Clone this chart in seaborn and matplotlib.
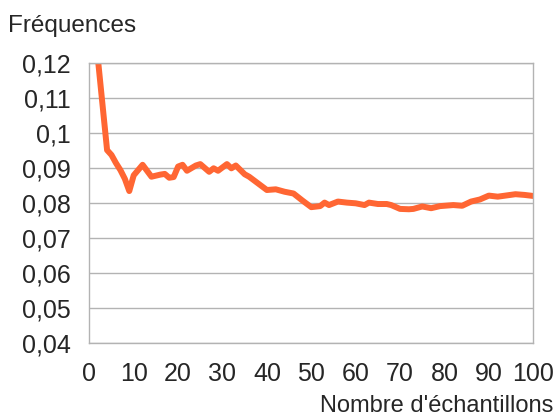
import matplotlib
matplotlib.use('Agg')
import matplotlib.pyplot as plt
from matplotlib.ticker import FuncFormatter
import seaborn as sns
import pandas as pd

# Values
echantillons = [1, 4, 5, 6, 7, 8, 9, 10, 12, 14, 16, 17, 18, 19, 20, 21, 22, 24, 25,
                27, 28, 29, 31, 32, 33, 35, 36, 38, 40, 42, 44, 46, 48, 50, 52, 53,
                54, 56, 58, 60, 62, 63, 65, 67, 68, 70, 72, 73, 75, 77, 79, 82, 84,
                86, 88, 90, 92, 96, 98, 100]
frequences = [0.133, 0.0952, 0.0938, 0.0915, 0.0895, 0.087, 0.0835, 0.088, 0.091,
              0.0876, 0.0882, 0.0884, 0.0873, 0.0875, 0.0905, 0.091, 0.0893, 0.0908,
              0.0912, 0.089, 0.0900, 0.0893, 0.0912, 0.0900, 0.0908, 0.0883, 0.0876,
              0.0857, 0.0838, 0.0840, 0.0833, 0.0828, 0.0808, 0.0789, 0.0792, 0.0802,
              0.0795, 0.0805, 0.0802, 0.0800, 0.0795, 0.0802, 0.0798, 0.0798, 0.0795,
              0.0784, 0.0783, 0.0784, 0.0791, 0.0786, 0.0792, 0.0795, 0.0793, 0.0805,
              0.0811, 0.0822, 0.0819, 0.0826, 0.0824, 0.0821]
x_ticks = list(range(0, 101, 10))
y_ticks = [0.04, 0.05, 0.06, 0.07, 0.08, 0.09, 0.10, 0.11, 0.12]

df = pd.DataFrame({'Nombre': echantillons, 'Frequence': frequences})

sns.set_style('white')
plt.rcParams['font.family'] = ['Liberation Sans', 'DejaVu Sans']

fig = plt.figure(figsize=(5.6, 4.17), dpi=100)
ax = fig.add_axes([0.1595, 0.1767, 0.7927, 0.6715])

sns.lineplot(data=df, x='Nombre', y='Frequence', color='#ff6633', linewidth=4.3, ax=ax)

ax.set_xlim(0, 100)
ax.set_ylim(0.04, 0.12)
ax.set_xticks(x_ticks)
ax.set_yticks(y_ticks)
ax.yaxis.set_major_formatter(FuncFormatter(lambda v, p: f'{v:g}'.replace('.', ',')))
ax.grid(axis='y', color='#b3b3b3', linewidth=1)
ax.grid(axis='x', visible=False)
for s in ax.spines.values():
    s.set_color('#b3b3b3')
    s.set_linewidth(1)
ax.tick_params(axis='x', length=7, width=1, color='#b3b3b3', pad=6.5, labelsize=18)
ax.tick_params(axis='y', length=8.5, width=1, color='#b3b3b3', pad=5, labelsize=18)
ax.set_xlabel('')
ax.set_ylabel('')

fig.text(8 / 560, 1 - 32 / 417, 'Fréquences', fontsize=17.5, ha='left', va='baseline')
fig.text(553 / 560, 1 - 412 / 417, "Nombre d'échantillons", fontsize=17, ha='right', va='baseline')

fig.savefig('out.png', dpi=100)
